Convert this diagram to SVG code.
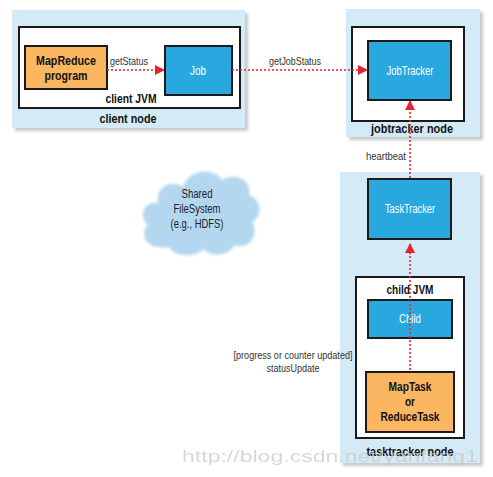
<svg xmlns="http://www.w3.org/2000/svg" width="493" height="477" viewBox="0 0 493 477">
<defs>
<style>
.host{fill:#d4ebf7}
.hshadow{fill:#9a9a9a;opacity:0.55}
.jvm{fill:#ffffff;stroke:#1a1a1a;stroke-width:2}
.blue{fill:#29a8df;stroke:#1a1a1a;stroke-width:2}
.orange{fill:#fbb661;stroke:#1a1a1a;stroke-width:2}
text{font-family:"Liberation Sans",Arial,sans-serif}
.wt{fill:#ffffff;font-size:12px;text-anchor:middle}
.bt{fill:#111;font-size:12.5px;font-weight:bold;text-anchor:middle}
.lbl{fill:#333;font-size:11px;text-anchor:middle}
.cl{fill:#222;font-size:12px;text-anchor:middle}
.conn{stroke:#e0262c;stroke-width:1.6;stroke-dasharray:2 2;fill:none}
</style>
<marker id="arr" markerWidth="10" markerHeight="10" refX="9" refY="5" orient="auto" markerUnits="userSpaceOnUse">
<path d="M0,0 L10,5 L0,10 z" fill="#e0262c"/>
</marker>
<filter id="blur" x="-10%" y="-10%" width="120%" height="120%"><feGaussianBlur stdDeviation="1.5"/></filter>
</defs>
<rect width="493" height="477" fill="#ffffff"/>

<g id="client-node">
<rect class="hshadow" x="15" y="13" width="233" height="118" filter="url(#blur)"/>
<rect class="host" x="12" y="10" width="233" height="118"/>
<text class="bt" x="128" y="123" textLength="57" lengthAdjust="spacingAndGlyphs">client node</text>
</g>
<g id="client-jvm">
<rect class="jvm" x="19" y="27" width="221" height="81"/>
<text class="bt" x="131" y="103" textLength="51" lengthAdjust="spacingAndGlyphs">client JVM</text>
</g>
<g id="mapreduce-program">
<rect class="orange" x="25" y="46" width="82" height="43"/>
<text class="bt" x="66" y="65" textLength="60" lengthAdjust="spacingAndGlyphs">MapReduce</text>
<text class="bt" x="66" y="80" textLength="43" lengthAdjust="spacingAndGlyphs">program</text>
</g>
<g id="job">
<rect class="blue" x="165" y="46" width="67" height="49"/>
<text class="wt" x="198" y="75" textLength="16" lengthAdjust="spacingAndGlyphs">Job</text>
</g>

<g id="jobtracker-node">
<rect class="hshadow" x="349" y="12" width="134" height="128" filter="url(#blur)"/>
<rect class="host" x="346" y="9" width="134" height="128"/>
<rect class="jvm" x="352" y="27" width="112" height="94"/>
<text class="bt" x="412" y="133" textLength="82" lengthAdjust="spacingAndGlyphs">jobtracker node</text>
</g>
<g id="jobtracker">
<rect class="blue" x="368" y="41" width="83" height="59"/>
<text class="wt" x="410" y="75" textLength="47" lengthAdjust="spacingAndGlyphs">JobTracker</text>
</g>

<g id="shared-fs">
<path d="M160,247 C145,247 140,233 148,225 C138,217 144,200 158,203 C155,187 172,179 183,187 C188,170 212,166 222,180 C234,172 253,180 249,195 C263,199 262,218 252,222 C260,235 248,251 235,245 C228,257 210,257 204,249 C195,258 172,257 170,247 C167,248 163,248 160,247 Z" fill="#b3d7ee" filter="url(#blur)"/>
<text class="cl" x="197" y="198" textLength="31" lengthAdjust="spacingAndGlyphs">Shared</text>
<text class="cl" x="197" y="213" textLength="47" lengthAdjust="spacingAndGlyphs">FileSystem</text>
<text class="cl" x="197" y="228" textLength="53" lengthAdjust="spacingAndGlyphs">(e.g., HDFS)</text>
</g>

<g id="tasktracker-node">
<rect class="hshadow" x="343" y="175" width="140" height="291" filter="url(#blur)"/>
<rect class="host" x="340" y="172" width="140" height="291"/>
<text class="bt" x="410" y="456" textLength="87" lengthAdjust="spacingAndGlyphs">tasktracker node</text>
</g>
<g id="tasktracker">
<rect class="blue" x="368" y="179" width="83" height="60"/>
<text class="wt" x="410" y="213" textLength="50" lengthAdjust="spacingAndGlyphs">TaskTracker</text>
</g>
<g id="child-jvm">
<rect class="jvm" x="356" y="277" width="108" height="161"/>
<text class="bt" x="410" y="294" textLength="47" lengthAdjust="spacingAndGlyphs">child JVM</text>
</g>
<g id="child">
<rect class="blue" x="368" y="300" width="84" height="38"/>
<text class="wt" x="410" y="323" textLength="22" lengthAdjust="spacingAndGlyphs">Child</text>
</g>
<g id="maptask">
<rect class="orange" x="366" y="372" width="88" height="60"/>
<text class="bt" x="410" y="391" textLength="43" lengthAdjust="spacingAndGlyphs">MapTask</text>
<text class="bt" x="410" y="406" textLength="10" lengthAdjust="spacingAndGlyphs">or</text>
<text class="bt" x="410" y="421" textLength="59" lengthAdjust="spacingAndGlyphs">ReduceTask</text>
</g>

<g id="connectors">
<line class="conn" x1="107" y1="70" x2="164" y2="70" marker-end="url(#arr)"/>
<text class="lbl" x="129" y="65" textLength="38" lengthAdjust="spacingAndGlyphs">getStatus</text>
<line class="conn" x1="232" y1="70" x2="367" y2="70" marker-end="url(#arr)"/>
<text class="lbl" x="295" y="65" textLength="52" lengthAdjust="spacingAndGlyphs">getJobStatus</text>
<line class="conn" x1="410" y1="178" x2="410" y2="101" marker-end="url(#arr)"/>
<text class="lbl" x="386" y="160" textLength="40" lengthAdjust="spacingAndGlyphs">heartbeat</text>
<line class="conn" x1="410" y1="370" x2="410" y2="244" marker-end="url(#arr)"/>
<text class="lbl" x="293" y="359" textLength="119" lengthAdjust="spacingAndGlyphs">[progress or counter updated]</text>
<text class="lbl" x="293" y="372" textLength="53" lengthAdjust="spacingAndGlyphs">statusUpdate</text>
</g>

<text x="182" y="462" font-family="Liberation Mono, monospace" font-size="16" fill="#c8c8c8" opacity="0.7" textLength="296" lengthAdjust="spacingAndGlyphs">http://blog.csdn.net/yanfang1</text>
</svg>
